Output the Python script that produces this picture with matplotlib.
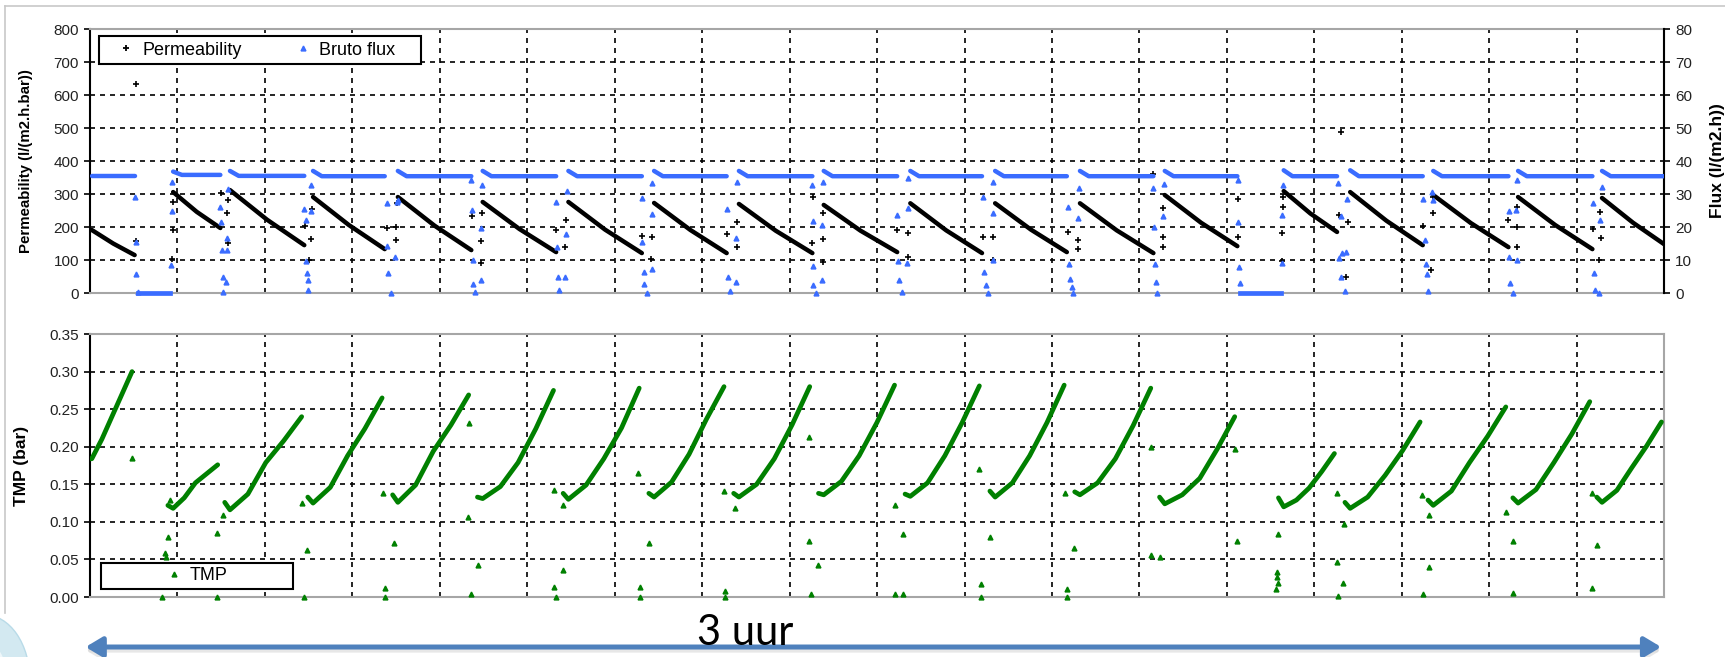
import matplotlib.pyplot as plt
from matplotlib.patches import Rectangle, FancyArrowPatch, Ellipse
from matplotlib.lines import Line2D

# time in minutes over the 3 hour run, one entry per filtration cycle
cycle_start = [0.2, 9.5, 16.0, 25.5, 35.2, 44.9, 54.7, 64.5, 74.2, 83.9,
               93.8, 103.5, 113.2, 122.9, 136.5, 144.1, 153.6, 163.3, 172.9]
cycle_end = [5.1, 14.9, 24.5, 33.7, 43.6, 53.3, 63.1, 72.8, 82.6, 92.3,
             102.0, 111.7, 121.6, 131.2, 142.6, 152.4, 162.2, 171.8, 180.0]

perm_start = [191, 306, 312, 291, 291, 276, 276, 273, 270, 267, 272, 272, 272, 297, 309, 306, 297, 291, 288]
perm_mid = [150, 246, 222, 206, 204, 194, 192, 191, 189, 189, 190, 192, 190, 213, 241, 219, 212, 206, 213]
perm_end = [115, 197, 145, 133, 130, 124, 121, 121, 121, 124, 121, 124, 121, 142, 185, 145, 139, 133, 148]

flux_peak = [35.5, 36.8, 37.0, 37.0, 37.0, 37.0, 37.0, 37.0, 37.0, 37.0,
             37.0, 37.0, 37.0, 37.0, 37.2, 37.2, 37.0, 37.0, 37.0]
flux_level = [35.5, 35.8, 35.5, 35.4, 35.4, 35.4, 35.4, 35.4, 35.4, 35.4,
              35.4, 35.4, 35.4, 35.4, 35.4, 35.4, 35.4, 35.4, 35.4]

tmp_first = [0.184, 0.122, 0.126, 0.133, 0.136, 0.133, 0.138, 0.138, 0.138, 0.138,
             0.137, 0.141, 0.140, 0.133, 0.132, 0.126, 0.129, 0.132, 0.133]
tmp_low = [0.184, 0.118, 0.116, 0.125, 0.126, 0.131, 0.130, 0.133, 0.133, 0.136,
           0.134, 0.133, 0.136, 0.124, 0.120, 0.118, 0.122, 0.125, 0.126]
tmp_q1 = [0.210, 0.132, 0.137, 0.146, 0.149, 0.147, 0.149, 0.153, 0.150, 0.154,
          0.152, 0.152, 0.152, 0.136, 0.129, 0.133, 0.141, 0.143, 0.142]
tmp_mid = [0.240, 0.152, 0.179, 0.188, 0.194, 0.179, 0.184, 0.190, 0.184, 0.188,
           0.188, 0.188, 0.184, 0.158, 0.145, 0.162, 0.179, 0.179, 0.172]
tmp_q3 = [0.270, 0.164, 0.208, 0.224, 0.229, 0.224, 0.225, 0.237, 0.229, 0.232,
          0.232, 0.232, 0.228, 0.197, 0.167, 0.195, 0.214, 0.217, 0.201]
tmp_last = [0.300, 0.176, 0.240, 0.265, 0.269, 0.275, 0.278, 0.280, 0.280, 0.282,
            0.281, 0.282, 0.278, 0.240, 0.191, 0.233, 0.253, 0.260, 0.233]

# periods with the pump stopped (flux = 0)
flux_off = [(5.5, 9.2), (131.5, 136.2)]

# loose points during backwash / restart
perm_gap = [(5.3, 633), (5.2, 158), (9.4, 103), (9.5, 191), (9.5, 276),
            (15.0, 302), (15.8, 282), (15.7, 242), (15.8, 152),
            (24.6, 203), (25.4, 254), (25.3, 164), (25.0, 100),
            (34.0, 197), (35.0, 160), (35.1, 272), (35.0, 200),
            (43.7, 233), (44.8, 242), (44.7, 158), (44.7, 91),
            (53.3, 191), (54.4, 221), (54.3, 139),
            (63.1, 173), (64.3, 170), (64.2, 103),
            (72.8, 179), (74.0, 215), (74.0, 139),
            (82.7, 291), (82.6, 152), (83.8, 242), (83.8, 164), (83.8, 94),
            (92.3, 191), (93.5, 182), (93.5, 109),
            (102.1, 170), (103.3, 170), (103.2, 100),
            (111.8, 185), (113.0, 161), (113.0, 133),
            (121.6, 361), (122.7, 258), (122.7, 170), (122.7, 139),
            (131.3, 285), (131.3, 170), (136.4, 291), (136.4, 261), (136.3, 182), (136.3, 97),
            (143.1, 487), (142.8, 236), (143.9, 215), (143.6, 48),
            (152.4, 203), (153.6, 291), (153.6, 242), (153.4, 70),
            (162.2, 221), (163.2, 261), (163.2, 200), (163.2, 139),
            (171.9, 194), (172.7, 245), (172.8, 167), (172.5, 100)]

flux_gap = [(5.1, 29.1), (5.3, 15.5), (5.3, 5.8), (5.5, 0.3), (9.3, 8.5), (9.4, 24.8), (9.4, 33.6),
            (14.9, 26.0), (15.0, 21.5), (15.1, 13.0), (15.2, 4.8), (15.2, 0.3), (15.7, 16.6), (15.7, 13.0), (15.6, 3.3), (15.8, 31.5),
            (24.5, 25.4), (24.7, 22.0), (24.7, 9.7), (24.8, 6.0), (24.9, 0.9), (25.3, 32.7), (25.3, 24.9), (24.9, 3.9),
            (34.0, 27.3), (34.0, 14.2), (34.1, 6.0), (34.4, 0.0), (34.9, 10.9), (35.1, 27.6), (35.2, 28.2),
            (43.6, 34.2), (43.7, 25.1), (43.8, 10.0), (43.8, 2.7), (44.0, 0.3), (44.7, 19.7), (44.7, 3.9), (44.8, 32.7),
            (53.3, 27.6), (53.4, 13.9), (53.5, 4.8), (53.6, 0.9), (54.3, 4.8), (54.4, 17.9), (54.5, 30.9),
            (63.1, 28.8), (63.1, 15.5), (63.3, 6.4), (63.3, 2.7), (63.7, 0.0), (64.3, 7.3), (64.3, 23.9), (64.3, 33.3),
            (72.8, 25.4), (73.0, 4.8), (73.2, 0.6), (73.9, 3.3), (73.9, 16.6), (74.0, 33.6),
            (82.6, 32.7), (82.7, 21.8), (82.7, 8.2), (82.7, 2.4), (83.0, 0.0), (83.7, 3.9), (83.7, 20.6), (83.8, 33.6),
            (92.3, 23.6), (92.4, 9.7), (92.5, 3.9), (92.9, 0.3), (93.4, 9.1), (93.5, 25.8), (93.5, 34.8),
            (102.1, 29.1), (102.2, 6.4), (102.5, 2.4), (102.7, 0.0), (103.2, 10.0), (103.3, 24.2), (103.3, 33.6),
            (111.8, 26.0), (112.0, 8.8), (112.1, 4.2), (112.3, 1.8), (112.4, 0.0), (113.0, 22.7), (113.1, 31.8),
            (121.6, 31.8), (121.7, 20.0), (121.8, 8.8), (121.9, 3.3), (122.0, 0.0), (122.7, 23.3), (122.8, 33.0),
            (131.3, 34.2), (131.3, 21.5), (131.4, 7.9), (131.5, 3.0), (136.3, 9.1), (136.3, 23.6), (136.4, 32.7),
            (142.7, 33.3), (143.0, 23.3), (142.8, 10.6), (143.2, 12.1), (143.1, 4.8), (143.5, 0.6), (143.6, 12.4), (143.7, 28.5),
            (152.4, 28.5), (152.6, 16.0), (152.8, 8.8), (152.9, 5.8), (153.0, 0.6), (153.5, 30.6), (153.6, 28.2),
            (162.3, 24.8), (162.3, 10.9), (162.4, 3.0), (162.7, 0.0), (163.1, 25.1), (163.2, 10.0), (163.2, 34.2),
            (171.9, 27.3), (172.0, 6.0), (172.1, 0.9), (172.5, 0.0), (172.7, 22.0), (172.9, 32.1)]

tmp_gap = [(4.8, 0.185), (8.2, 0.0), (8.7, 0.053), (8.6, 0.058), (8.9, 0.080), (9.2, 0.129),
           (14.5, 0.085), (14.5, 0.0), (15.2, 0.109),
           (24.2, 0.125), (24.8, 0.063), (24.5, 0.0),
           (33.5, 0.138), (34.8, 0.072), (33.7, 0.012), (33.7, 0.0),
           (43.3, 0.232), (43.2, 0.106), (44.4, 0.043), (43.6, 0.004),
           (53.1, 0.143), (54.1, 0.122), (54.1, 0.036), (53.1, 0.013), (53.3, 0.0),
           (62.7, 0.165), (63.9, 0.072), (62.9, 0.013), (62.9, 0.0),
           (72.5, 0.141), (73.8, 0.118), (72.6, 0.008), (72.6, 0.0),
           (82.2, 0.213), (82.2, 0.075), (83.3, 0.043), (82.5, 0.004),
           (92.1, 0.122), (93.0, 0.084), (92.1, 0.004), (93.0, 0.004),
           (101.7, 0.170), (102.9, 0.080), (101.9, 0.017), (101.9, 0.0),
           (111.5, 0.138), (112.5, 0.065), (111.7, 0.011), (111.7, 0.0),
           (121.3, 0.200), (121.3, 0.056), (122.4, 0.053),
           (130.9, 0.197), (131.2, 0.075), (135.7, 0.033), (135.7, 0.027), (135.9, 0.019), (135.6, 0.011), (135.9, 0.084),
           (142.6, 0.138), (143.4, 0.097), (142.6, 0.047), (143.3, 0.019), (142.7, 0.001),
           (152.3, 0.136), (153.1, 0.109), (153.1, 0.040), (152.4, 0.004),
           (161.9, 0.113), (162.7, 0.075), (162.7, 0.005),
           (171.8, 0.138), (172.3, 0.069), (171.8, 0.012)]

blue = '#3a6cff'
green = '#008000'
grey = '#a6a6a6'

plt.rcParams['font.family'] = ['Liberation Sans', 'DejaVu Sans']

fig = plt.figure(figsize=(17.25, 6.57), dpi=100)
ax1 = fig.add_axes([0.0522, 0.554, 0.9125, 0.4018])
ax2 = ax1.twinx()
ax3 = fig.add_axes([0.0522, 0.0913, 0.9125, 0.4003])

grid_kw = dict(color='black', linestyle=(0, (3, 3)), linewidth=1.2)
for ax in (ax1, ax3):
    ax.set_xlim(0, 180)
    ax.set_xticks(range(0, 181, 10))
    ax.tick_params(axis='x', length=0, labelbottom=False)
    ax.grid(True, **grid_kw)
    for side in ('top', 'bottom', 'right'):
        ax.spines[side].set_color(grey)
        ax.spines[side].set_linewidth(1.5)
    ax.spines['left'].set_color('black')
    ax.spines['left'].set_linewidth(1.5)
    ax.tick_params(axis='y', direction='out', length=4, width=1.2, pad=4,
                   labelsize=11, labelcolor='#222222')

ax1.set_ylim(0, 800)
ax1.set_yticks(range(0, 801, 100))
ax2.set_ylim(0, 80)
ax2.set_yticks(range(0, 81, 10))
ax2.tick_params(axis='y', direction='out', length=4, width=1.2, pad=4,
                labelsize=11, labelcolor='#222222')
for side in ('top', 'bottom', 'left'):
    ax2.spines[side].set_visible(False)
ax2.spines['right'].set_color('black')
ax2.spines['right'].set_linewidth(1.5)

ax3.set_ylim(0, 0.35)
ax3.set_yticks([0, 0.05, 0.10, 0.15, 0.20, 0.25, 0.30, 0.35])
ax3.yaxis.set_major_formatter(plt.FormatStrFormatter('%.2f'))

# cycles
for i in range(len(cycle_start)):
    s, e = cycle_start[i], cycle_end[i]
    m = (s + e) / 2
    ax1.plot([s, m, e], [perm_start[i], perm_mid[i], perm_end[i]],
             color='black', lw=3.2, solid_capstyle='round', solid_joinstyle='round', zorder=3)
    ax2.plot([s, s + 1.0, e], [flux_peak[i], flux_level[i], flux_level[i]],
             color=blue, lw=3.2, solid_capstyle='round', zorder=3)
    te = e - 0.3
    tt = [s - 0.6, s, s + (te - s) / 4, (s + te) / 2, s + 3 * (te - s) / 4, te]
    vv = [tmp_first[i], tmp_low[i], tmp_q1[i], tmp_mid[i], tmp_q3[i], tmp_last[i]]
    ax3.plot(tt, vv, color=green, lw=3.4, solid_capstyle='round', solid_joinstyle='round', zorder=3)

for a, b in flux_off:
    ax2.plot([a, b], [0, 0], color=blue, lw=3.4, clip_on=False, zorder=3)

ax1.plot([p[0] for p in perm_gap], [p[1] for p in perm_gap], ls='none',
         marker='+', color='black', ms=5, mew=1.2, clip_on=False, zorder=3)
ax2.plot([p[0] for p in flux_gap], [p[1] for p in flux_gap], ls='none',
         marker='^', color=blue, ms=3.5, mec=blue, clip_on=False, zorder=3)
ax3.plot([p[0] for p in tmp_gap], [p[1] for p in tmp_gap], ls='none',
         marker='^', color=green, ms=3.5, mec=green, clip_on=False, zorder=3)

# axis labels
ax1.set_ylabel('Permeability (l/(m2.h.bar))', fontsize=10.8, fontweight='bold')
ax1.yaxis.set_label_coords(-0.0362, 0.5)
ax2.set_ylabel('Flux (l/(m2.h))', fontsize=12.5, fontweight='bold')
ax2.yaxis.set_label_coords(1.029, 0.5)
ax3.set_ylabel('TMP (bar)', fontsize=12.5, fontweight='bold')
ax3.yaxis.set_label_coords(-0.0388, 0.5)

# legends
ax2.add_patch(Rectangle((0.0057, 0.867), 0.2046, 0.1065, transform=ax2.transAxes,
                        facecolor='white', edgecolor='black', lw=1.5, zorder=4, clip_on=False))
h_top = [Line2D([], [], ls='none', marker='+', color='black', ms=5, mew=1.3),
         Line2D([], [], ls='none', marker='^', color=blue, ms=3.5)]
leg = ax2.legend(h_top, ['Permeability', 'Bruto flux'], ncol=2, loc='center',
                 bbox_to_anchor=(0.106, 0.920), frameon=False, fontsize=13,
                 handlelength=0.8, handletextpad=0.5, columnspacing=3.0,
                 borderpad=0, borderaxespad=0)
leg.set_zorder(5)

ax3.add_patch(Rectangle((0.007, 0.030), 0.122, 0.099, transform=ax3.transAxes,
                        facecolor='white', edgecolor='black', lw=1.5, zorder=4, clip_on=False))
h_bot = [Line2D([], [], ls='none', marker='^', color=green, ms=3.5)]
leg3 = ax3.legend(h_bot, ['TMP'], loc='center', bbox_to_anchor=(0.068, 0.080),
                  frameon=False, fontsize=13, handlelength=0.8, handletextpad=0.5,
                  borderpad=0, borderaxespad=0)
leg3.set_zorder(5)

# slide decoration: frame, corner swirl, arrow with "3 uur"
fig.add_artist(Line2D([0.003, 1.0], [0.991, 0.991], transform=fig.transFigure,
                      color='#c8c8c8', lw=1.2))
fig.add_artist(Line2D([0.003, 0.003], [0.991, 0.067], transform=fig.transFigure,
                      color='#c8c8c8', lw=1.2))
fig.add_artist(Ellipse((-0.0087, -0.035), 0.052, 0.198, transform=fig.transFigure,
                       facecolor='#d3e9f1', edgecolor='#b9dbe8', lw=1.0, zorder=0))
fig.add_artist(Ellipse((-0.0120, -0.045), 0.034, 0.150, transform=fig.transFigure,
                       facecolor='#eef7fa', edgecolor='none', zorder=0))

shadow = FancyArrowPatch((0.048, 0.0105), (0.9646, 0.0105), transform=fig.transFigure,
                         arrowstyle='<|-|>,head_length=10,head_width=6', mutation_scale=1,
                         lw=3.6, color='#d8d8d8', alpha=0.6)
fig.add_artist(shadow)
arrow = FancyArrowPatch((0.048, 0.0152), (0.9646, 0.0152), transform=fig.transFigure,
                        arrowstyle='<|-|>,head_length=10,head_width=6', mutation_scale=1,
                        lw=3.6, color='#4f81bd')
fig.add_artist(arrow)
fig.text(0.432, 0.019, '3 uur', fontsize=30, family=['Lato', 'DejaVu Sans'],
         ha='center', va='baseline', color='black')

fig.savefig('out.png', dpi=100)
